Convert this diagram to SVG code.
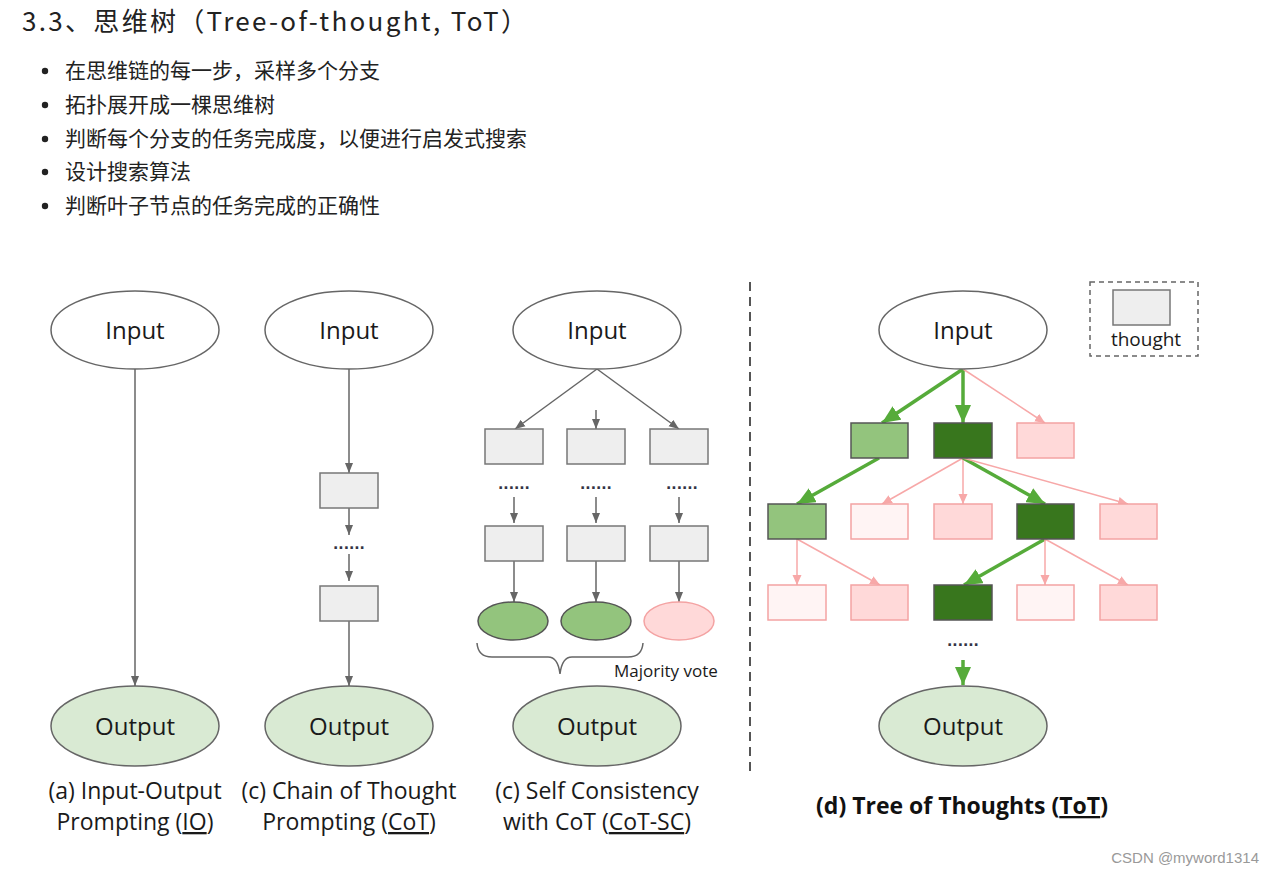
<svg xmlns="http://www.w3.org/2000/svg" width="1275" height="877" viewBox="0 0 1275 877">
<defs>
<style>
.hd{font-family:"Noto Sans CJK SC","Noto Sans",sans-serif;fill:#222}
.lbl{font-family:"Open Sans","DejaVu Sans",sans-serif;font-size:24px;fill:#1a1a1a;text-anchor:middle}
.cap{font-family:"Open Sans","DejaVu Sans",sans-serif;font-size:23px;fill:#1a1a1a;text-anchor:middle}
.inp{fill:#fff;stroke:#666;stroke-width:1.5}
.out{fill:#d9ead3;stroke:#666;stroke-width:1.5}
.th{fill:#eeeeee;stroke:#777;stroke-width:1.5}
.lg{fill:#93c47d;stroke:#555;stroke-width:1.5}
.dg{fill:#38761d;stroke:#555;stroke-width:1.5}
.pk{fill:#ffd9d9;stroke:#f4a3a3;stroke-width:1.5}
.lp{fill:#fff4f4;stroke:#f4a3a3;stroke-width:1.5}
.ga{stroke:#666;stroke-width:1.5;fill:none;marker-end:url(#mg)}
.gr{stroke:#56ab3a;stroke-width:3.5;fill:none;marker-end:url(#mgr)}
.pa{stroke:#f7a8a8;stroke-width:1.5;fill:none;marker-end:url(#mp)}
.dots{font-family:"DejaVu Sans",sans-serif;font-size:14px;fill:#334;text-anchor:middle;font-weight:bold}
</style>
<marker id="mg" markerUnits="userSpaceOnUse" markerWidth="10" markerHeight="10" viewBox="0 0 10 10" refX="10" refY="5" orient="auto"><path d="M0,1 L10,5 L0,9 z" fill="#666"/></marker>
<marker id="mgr" markerUnits="userSpaceOnUse" markerWidth="18" markerHeight="16" viewBox="0 0 18 16" refX="18" refY="8" orient="auto"><path d="M0,0 L18,8 L0,16 z" fill="#56ab3a"/></marker>
<marker id="mp" markerUnits="userSpaceOnUse" markerWidth="10" markerHeight="10" viewBox="0 0 10 10" refX="10" refY="5" orient="auto"><path d="M0,0.5 L10,5 L0,9.5 z" fill="#f7a8a8"/></marker>
</defs>
<rect width="1275" height="877" fill="#fff"/>

<g id="header">
<text class="hd" x="22" y="31" font-size="26" textLength="505" lengthAdjust="spacing">3.3、思维树（Tree-of-thought, ToT）</text>
<g font-size="21">
<circle cx="45" cy="71" r="3.2" fill="#222"/><text class="hd" x="65" y="78">在思维链的每一步，采样多个分支</text>
<circle cx="45" cy="105" r="3.2" fill="#222"/><text class="hd" x="65" y="112">拓扑展开成一棵思维树</text>
<circle cx="45" cy="139" r="3.2" fill="#222"/><text class="hd" x="65" y="146">判断每个分支的任务完成度，以便进行启发式搜索</text>
<circle cx="45" cy="172" r="3.2" fill="#222"/><text class="hd" x="65" y="179">设计搜索算法</text>
<circle cx="45" cy="206" r="3.2" fill="#222"/><text class="hd" x="65" y="213">判断叶子节点的任务完成的正确性</text>
</g>
</g>

<g id="connectors">
<!-- a -->
<line class="ga" x1="135" y1="369" x2="135" y2="686"/>
<!-- b -->
<line class="ga" x1="349" y1="369" x2="349" y2="473"/>
<line class="ga" x1="349" y1="508" x2="349" y2="535"/>
<line class="ga" x1="349" y1="554" x2="349" y2="581"/>
<line class="ga" x1="349" y1="621" x2="349" y2="686"/>
<!-- c -->
<line class="ga" x1="597" y1="369" x2="515" y2="429"/>
<line class="ga" x1="597" y1="369" x2="679" y2="429"/>
<line class="ga" x1="596" y1="410" x2="596" y2="429"/>
<line class="ga" x1="514" y1="497" x2="514" y2="523"/>
<line class="ga" x1="596" y1="497" x2="596" y2="523"/>
<line class="ga" x1="679" y1="497" x2="679" y2="523"/>
<line class="ga" x1="514" y1="561" x2="514" y2="602"/>
<line class="ga" x1="596" y1="561" x2="596" y2="602"/>
<line class="ga" x1="679" y1="561" x2="679" y2="602"/>
<path d="M477,643 Q478,657 492,657 L548,657 Q558,657 560,674 Q562,657 572,657 L628,657 Q642,657 643,643" fill="none" stroke="#666" stroke-width="1.5"/>
<!-- d -->
<line class="gr" x1="963" y1="369" x2="882" y2="423"/>
<line class="gr" x1="963" y1="369" x2="963" y2="423"/>
<line class="pa" x1="963" y1="369" x2="1045" y2="423"/>
<line class="gr" x1="879" y1="458" x2="797" y2="504"/>
<line class="pa" x1="963" y1="458" x2="882" y2="504"/>
<line class="pa" x1="963" y1="458" x2="963" y2="504"/>
<line class="gr" x1="963" y1="458" x2="1045" y2="504"/>
<line class="pa" x1="963" y1="458" x2="1128" y2="504"/>
<line class="pa" x1="797" y1="539" x2="797" y2="585"/>
<line class="pa" x1="797" y1="539" x2="880" y2="585"/>
<line class="gr" x1="1045" y1="539" x2="964" y2="585"/>
<line class="pa" x1="1045" y1="539" x2="1045" y2="585"/>
<line class="pa" x1="1045" y1="539" x2="1128" y2="585"/>
<line class="gr" x1="963" y1="660" x2="963" y2="685"/>
</g>

<line id="divider" x1="750" y1="282" x2="750" y2="772" stroke="#555" stroke-width="2" stroke-dasharray="9,6"/>

<g id="col-a">
<g id="a-input"><ellipse class="inp" cx="135" cy="330" rx="84" ry="39"/><text class="lbl" x="135" y="339">Input</text></g>
<g id="a-output"><ellipse class="out" cx="135" cy="726" rx="84" ry="40"/><text class="lbl" x="135" y="735">Output</text></g>
<text class="cap" x="135" y="799">(a) Input-Output</text>
<text class="cap" x="135" y="830">Prompting (<tspan text-decoration="underline">IO</tspan>)</text>
</g>

<g id="col-b">
<g id="b-input"><ellipse class="inp" cx="349" cy="330" rx="84" ry="39"/><text class="lbl" x="349" y="339">Input</text></g>
<rect id="b-t1" class="th" x="320" y="473" width="58" height="35"/>
<text class="dots" x="349" y="549">......</text>
<rect id="b-t2" class="th" x="320" y="586" width="58" height="35"/>
<g id="b-output"><ellipse class="out" cx="349" cy="726" rx="84" ry="40"/><text class="lbl" x="349" y="735">Output</text></g>
<text class="cap" x="349" y="799">(c) Chain of Thought</text>
<text class="cap" x="349" y="830">Prompting (<tspan text-decoration="underline">CoT</tspan>)</text>
</g>

<g id="col-c">
<g id="c-input"><ellipse class="inp" cx="597" cy="330" rx="84" ry="39"/><text class="lbl" x="597" y="339">Input</text></g>
<rect class="th" x="485" y="429" width="58" height="35"/>
<rect class="th" x="567" y="429" width="58" height="35"/>
<rect class="th" x="650" y="429" width="58" height="35"/>
<text class="dots" x="514" y="489">......</text>
<text class="dots" x="596" y="489">......</text>
<text class="dots" x="682" y="489">......</text>
<rect class="th" x="485" y="526" width="58" height="35"/>
<rect class="th" x="567" y="526" width="58" height="35"/>
<rect class="th" x="650" y="526" width="58" height="35"/>
<ellipse cx="513" cy="621" rx="35" ry="19" fill="#93c47d" stroke="#555" stroke-width="1.5"/>
<ellipse cx="596" cy="621" rx="35" ry="19" fill="#93c47d" stroke="#555" stroke-width="1.5"/>
<ellipse cx="679" cy="621" rx="35" ry="19" fill="#ffd9d9" stroke="#f4a3a3" stroke-width="1.5"/>
<text x="614" y="677" font-family="Open Sans, DejaVu Sans, sans-serif" font-size="17" fill="#1a1a1a">Majority vote</text>
<g id="c-output"><ellipse class="out" cx="597" cy="726" rx="84" ry="40"/><text class="lbl" x="597" y="735">Output</text></g>
<text class="cap" x="597" y="799">(c) Self Consistency</text>
<text class="cap" x="597" y="830">with CoT (<tspan text-decoration="underline">CoT-SC</tspan>)</text>
</g>

<g id="col-d">
<g id="d-input"><ellipse class="inp" cx="963" cy="330" rx="84" ry="39"/><text class="lbl" x="963" y="339">Input</text></g>
<g id="legend">
<rect x="1090" y="282" width="108" height="74" fill="none" stroke="#666" stroke-width="1.5" stroke-dasharray="5,4"/>
<rect class="th" x="1113" y="290" width="57" height="35"/>
<text x="1146" y="346" font-family="Open Sans, DejaVu Sans, sans-serif" font-size="19" fill="#1a1a1a" text-anchor="middle">thought</text>
</g>
<rect class="lg" x="851" y="423" width="57" height="35"/>
<rect class="dg" x="934" y="423" width="58" height="35"/>
<rect class="pk" x="1017" y="423" width="57" height="35"/>
<rect class="lg" x="768" y="504" width="58" height="35"/>
<rect class="lp" x="851" y="504" width="57" height="35"/>
<rect class="pk" x="934" y="504" width="58" height="35"/>
<rect class="dg" x="1017" y="504" width="57" height="35"/>
<rect class="pk" x="1100" y="504" width="57" height="35"/>
<rect class="lp" x="768" y="585" width="58" height="35"/>
<rect class="pk" x="851" y="585" width="57" height="35"/>
<rect class="dg" x="934" y="585" width="58" height="35"/>
<rect class="lp" x="1017" y="585" width="57" height="35"/>
<rect class="pk" x="1100" y="585" width="57" height="35"/>
<text class="dots" x="963" y="646">......</text>
<g id="d-output"><ellipse class="out" cx="963" cy="726" rx="84" ry="40"/><text class="lbl" x="963" y="735">Output</text></g>
<text x="962" y="814" font-family="Open Sans, DejaVu Sans, sans-serif" font-size="23" font-weight="bold" fill="#111" text-anchor="middle">(d) Tree of Thoughts (<tspan text-decoration="underline">ToT</tspan>)</text>
</g>

<text x="1259" y="863" font-family="Liberation Sans, sans-serif" font-size="15" fill="#999" text-anchor="end">CSDN @myword1314</text>
</svg>
